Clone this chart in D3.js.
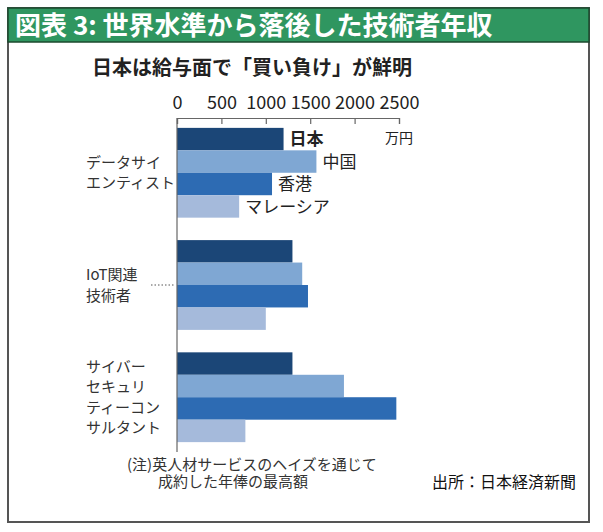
<!DOCTYPE html>
<html><head><meta charset="utf-8">
<script src="https://cdn.jsdelivr.net/npm/d3@7"></script>
<style>
html,body{margin:0;padding:0;background:#fff;}
svg text{font-family:"Noto Sans CJK JP","Noto Sans",sans-serif;}
</style>
</head><body>
<svg id="chart" width="603" height="532"></svg>
<script>
const categories = [["データサイ","エンティスト"],["IoT関連","技術者"],["サイバー","セキュリ","ティーコン","サルタント"]];
const categoryKeys = ["データサイエンティスト","IoT関連技術者","サイバーセキュリティーコンサルタント"];
const seriesNames = ["日本","中国","香港","マレーシア"];
const japan    = [1200, 1300, 1300];
const china    = [1570, 1410, 1880];
const hongkong = [1070, 1475, 2470];
const malaysia = [700, 1000, 770];
const tickValues = [0,500,1000,1500,2000,2500];
const colors = ["#1b4677","#7fa7d3","#2d6bb3","#a5badb"];

const seriesValues = [japan, china, hongkong, malaysia];
const svg = d3.select("#chart");

// frame
svg.append("rect").attr("x",8).attr("y",8).attr("width",581).attr("height",514)
  .attr("fill","#fff").attr("stroke","#555").attr("stroke-width",2);
svg.append("rect").attr("x",8).attr("y",8).attr("width",581).attr("height",34)
  .attr("fill","#2f9660").attr("stroke","#1c4a2e").attr("stroke-width",1.5);
svg.append("text").attr("x",15).attr("y",35).attr("fill","#fff")
  .attr("font-size",26).attr("font-weight",700)
  .text("図表 3: 世界水準から落後した技術者年収");

svg.append("text").attr("x",92).attr("y",75).attr("fill","#222")
  .attr("font-size",20).attr("font-weight",700)
  .text("日本は給与面で「買い負け」が鮮明");

const x = d3.scaleLinear().domain([0,2500]).range([177,399]);
const y = d3.scaleBand().domain(categoryKeys).range([118,452]).paddingInner(0.2).paddingOuter(0.088);
const ys = d3.scaleBand().domain(seriesNames).range([0,y.bandwidth()]).padding(0);

// bars
categoryKeys.forEach((c,ci)=>{
  const g = svg.append("g").attr("transform",`translate(0,${y(c)})`);
  g.selectAll("rect").data(seriesNames).join("rect")
    .attr("x",x(0)).attr("y",s=>ys(s))
    .attr("width",(s,si)=>x(seriesValues[si][ci])-x(0))
    .attr("height",ys.bandwidth())
    .attr("fill",(s,si)=>colors[si]);
  if(ci===0){
    g.selectAll("text").data(seriesNames).join("text")
      .attr("x",(s,si)=>x(seriesValues[si][ci])+6)
      .attr("y",s=>ys(s)+ys.bandwidth()/2)
      .attr("dy","0.36em")
      .attr("font-size",17)
      .attr("font-weight",(s,si)=>si===0?700:400)
      .attr("fill","#222")
      .text(s=>s);
  }
});

// axis
const axis = d3.axisTop(x).tickValues(tickValues).tickFormat(d3.format("d"))
  .tickSizeInner(-6).tickSizeOuter(-6).tickPadding(9);
const ag = svg.append("g").attr("transform","translate(0,118)").call(axis);
ag.selectAll("path,line").attr("stroke","#666").attr("stroke-width",1.2);
ag.selectAll("text").attr("font-family","'Liberation Sans Narrow','Liberation Sans',Arial,sans-serif")
  .attr("font-size",18).attr("fill","#222");
svg.append("line").attr("x1",x(0)).attr("x2",x(0)).attr("y1",118).attr("y2",452)
  .attr("stroke","#666").attr("stroke-width",1.2);

svg.append("text").attr("x",385).attr("y",138).attr("dy","0.36em")
  .attr("font-size",14).attr("fill","#222").text("万円");

// category labels
const lh = 20.5;
categoryKeys.forEach((c,ci)=>{
  const lines = categories[ci];
  const cy = y(c)+y.bandwidth()/2;
  const t = svg.append("text").attr("font-size",15).attr("fill","#333");
  lines.forEach((l,li)=>{
    t.append("tspan").attr("x",86)
      .attr("y",cy+(li-(lines.length-1)/2)*lh)
      .attr("dy","0.36em").text(l);
  });
});
// leader for IoT
svg.append("line").attr("x1",151).attr("x2",175)
  .attr("y1",y(categoryKeys[1])+y.bandwidth()/2).attr("y2",y(categoryKeys[1])+y.bandwidth()/2)
  .attr("stroke","#555").attr("stroke-width",1).attr("stroke-dasharray","1.5,2");

// footnote
svg.append("text").attr("x",127).attr("y",465).attr("dy","0.36em").attr("font-size",15).attr("fill","#333")
  .text("(注)英人材サービスのヘイズを通じて");
svg.append("text").attr("x",158).attr("y",482).attr("dy","0.36em").attr("font-size",15).attr("fill","#333")
  .text("成約した年俸の最高額");
svg.append("text").attr("x",432).attr("y",482).attr("dy","0.36em").attr("font-size",16).attr("fill","#111")
  .text("出所：日本経済新聞");
</script>
</body></html>
